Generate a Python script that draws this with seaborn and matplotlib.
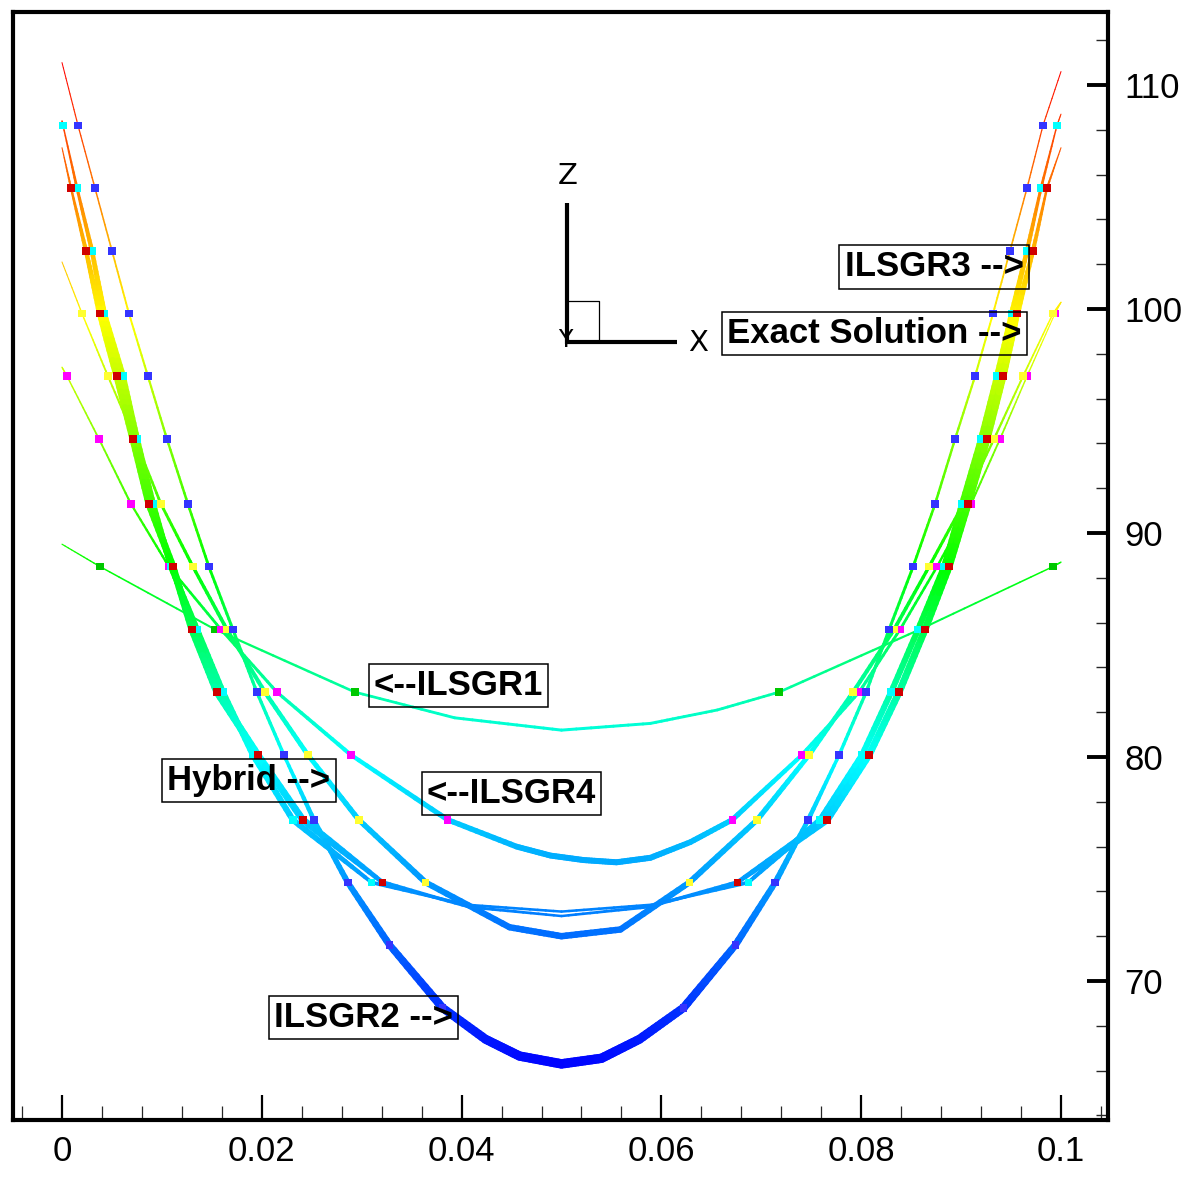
import numpy as np
import pandas as pd
import matplotlib
matplotlib.use("Agg")
import matplotlib.pyplot as plt
from matplotlib.collections import LineCollection
from matplotlib.colors import LinearSegmentedColormap, Normalize
from matplotlib.lines import Line2D
from matplotlib.ticker import FixedLocator, MultipleLocator
import seaborn as sns

# z levels at which the solution points were sampled (top to bottom)
Z_LEVELS = [108.2, 105.4, 102.6, 99.8, 97.0, 94.2, 91.3, 88.5,
            85.7, 82.9, 80.1, 77.2, 74.4, 71.6, 68.8]

# ILSGR2
ILSGR2_LEFT_X = [0.0016, 0.0033, 0.0050, 0.0067, 0.0086, 0.0105, 0.0126, 0.0147,
                 0.0171, 0.0195, 0.0222, 0.0252, 0.0286, 0.0328, 0.0381]
ILSGR2_RIGHT_X = [0.0982, 0.0966, 0.0949, 0.0932, 0.0914, 0.0894, 0.0874, 0.0852,
                  0.0828, 0.0805, 0.0778, 0.0747, 0.0714, 0.0674, 0.0622]
ILSGR2_BOTTOM_X = [0.0424, 0.0458, 0.0500, 0.0540, 0.0578]
ILSGR2_BOTTOM_Z = [67.4, 66.65, 66.3, 66.55, 67.4]
ILSGR2_END_Z = [111.0, 110.6]

# Exact solution
EXACT_LEFT_X = [0.0009, 0.0024, 0.0038, 0.0055, 0.0071, 0.0087, 0.0111, 0.0130,
                0.0155, 0.0196, 0.0241, 0.0321]
EXACT_RIGHT_X = [0.0986, 0.0972, 0.0956, 0.0942, 0.0926, 0.0907, 0.0888, 0.0864,
                 0.0838, 0.0808, 0.0766, 0.0676]
EXACT_BOTTOM_X = [0.0408, 0.0500, 0.0586]
EXACT_BOTTOM_Z = [73.3, 72.9, 73.3]
EXACT_END_Z = [107.2, 107.2]

# ILSGR3
ILSGR3_LEFT_X = [0.0001, 0.0015, 0.0030, 0.0042, 0.0061, 0.0075, 0.0091, 0.0109,
                 0.0135, 0.0161, 0.0191, 0.0231, 0.0310]
ILSGR3_RIGHT_X = [0.0996, 0.0980, 0.0966, 0.0951, 0.0936, 0.0920, 0.0901, 0.0883,
                  0.0857, 0.0830, 0.0801, 0.0759, 0.0687]
ILSGR3_BOTTOM_X = [0.0405, 0.0500, 0.0590]
ILSGR3_BOTTOM_Z = [73.4, 73.1, 73.4]
ILSGR3_END_Z = [108.4, 108.7]

# Hybrid
HYBRID_LEFT_X = [0.0020, 0.0046, 0.0073, 0.0099, 0.0131, 0.0165, 0.0203, 0.0246,
                 0.0297, 0.0364]
HYBRID_RIGHT_X = [0.0992, 0.0962, 0.0933, 0.0902, 0.0868, 0.0833, 0.0792, 0.0748,
                  0.0696, 0.0628]
HYBRID_BOTTOM_X = [0.0448, 0.0500, 0.0559]
HYBRID_BOTTOM_Z = [72.4, 72.0, 72.3]
HYBRID_END_Z = [102.1, 100.3]

# ILSGR4
ILSGR4_LEFT_X = [0.0005, 0.0037, 0.0069, 0.0107, 0.0159, 0.0215, 0.0289, 0.0386]
ILSGR4_RIGHT_X = [0.0994, 0.0966, 0.0939, 0.0910, 0.0876, 0.0839, 0.0798, 0.0741,
                  0.0671]
ILSGR4_BOTTOM_X = [0.0455, 0.0489, 0.0522, 0.0555, 0.0589, 0.0629]
ILSGR4_BOTTOM_Z = [76.0, 75.6, 75.4, 75.3, 75.5, 76.2]
ILSGR4_END_Z = [97.4, 100.3]

# ILSGR1
ILSGR1_LEFT_X = [0.0038, 0.0153, 0.0293]
ILSGR1_RIGHT_X = [0.0992, 0.0859, 0.0718]
ILSGR1_BOTTOM_X = [0.0393, 0.0500, 0.0589, 0.0656]
ILSGR1_BOTTOM_Z = [81.75, 81.2, 81.5, 82.1]
ILSGR1_END_Z = [89.5, 88.7]

X_TICKS = [0.0, 0.02, 0.04, 0.06, 0.08, 0.1]
X_TICK_LABELS = ["0", "0.02", "0.04", "0.06", "0.08", "0.1"]
Z_TICKS = [70, 80, 90, 100, 110]

# ---------------------------------------------------------------- styling
W, H = 1186, 1178
sns.set_theme(style="white")
NARROW = ["Liberation Sans Narrow", "Liberation Sans", "DejaVu Sans"]
plt.rcParams["font.family"] = NARROW

# name: (left x, first level, right x, first level, bottom x, bottom z, end z,
#        marker colour, width knots, width values in px)
curves = {
    "ILSGR1": (ILSGR1_LEFT_X, 7, ILSGR1_RIGHT_X, 7, ILSGR1_BOTTOM_X, ILSGR1_BOTTOM_Z,
               ILSGR1_END_Z, "#00c800", [0, 0.5, 1], [1.2, 2.2, 3.0]),
    "ILSGR4": (ILSGR4_LEFT_X, 4, ILSGR4_RIGHT_X, 3, ILSGR4_BOTTOM_X, ILSGR4_BOTTOM_Z,
               ILSGR4_END_Z, "#ff00ff", [0, 0.7, 1], [1.0, 3.2, 6.0]),
    "Hybrid": (HYBRID_LEFT_X, 3, HYBRID_RIGHT_X, 3, HYBRID_BOTTOM_X, HYBRID_BOTTOM_Z,
               HYBRID_END_Z, "#ffff30", [0, 0.6, 1], [1.0, 4.0, 6.5]),
    "ILSGR3": (ILSGR3_LEFT_X, 0, ILSGR3_RIGHT_X, 0, ILSGR3_BOTTOM_X, ILSGR3_BOTTOM_Z,
               ILSGR3_END_Z, "#00ffff", [0, 0.25, 0.9, 1], [1.0, 6.0, 6.0, 2.5]),
    "Exact": (EXACT_LEFT_X, 1, EXACT_RIGHT_X, 1, EXACT_BOTTOM_X, EXACT_BOTTOM_Z,
              EXACT_END_Z, "#d00000", [0, 0.25, 0.9, 1], [1.0, 7.0, 7.0, 2.5]),
    "ILSGR2": (ILSGR2_LEFT_X, 0, ILSGR2_RIGHT_X, 0, ILSGR2_BOTTOM_X, ILSGR2_BOTTOM_Z,
               ILSGR2_END_Z, "#3434ff", [0, 0.7, 1], [1.0, 3.5, 9.5]),
}

cmap = LinearSegmentedColormap.from_list(
    "small_rainbow",
    [(0.0, (0, 0, 1)), (14 / 45, (0, 1, 1)), (22.5 / 45, (0, 1, 0)),
     (33.5 / 45, (1, 1, 0)), (1.0, (1, 0, 0))])
norm = Normalize(vmin=66, vmax=111)

fig = plt.figure(figsize=(W / 100, H / 100), dpi=100)
ax = fig.add_axes([13 / W, 1 - 1120 / H, (1108 - 13) / W, (1120 - 12) / H])
ax.set_facecolor("white")


def curve_nodes(lx, lf, rx, rf, bx, bz, ez):
    lz = Z_LEVELS[lf:lf + len(lx)]
    rz = Z_LEVELS[rf:rf + len(rx)]
    xs = [0.0] + list(lx) + list(bx) + list(rx)[::-1] + [0.1]
    zs = [ez[0]] + list(lz) + list(bz) + list(rz)[::-1] + [ez[1]]
    return np.array(xs), np.array(zs), (lz, rz)


marker_rows = []
for name, (lx, lf, rx, rf, bx, bz, ez, mcol, wk, wv) in curves.items():
    xs, zs, (lz, rz) = curve_nodes(lx, lf, rx, rf, bx, bz, ez)
    # densify the polyline so the colour can follow z smoothly
    px, pz = [xs[0]], [zs[0]]
    for i in range(len(xs) - 1):
        s = np.linspace(0, 1, 13)[1:]
        px.extend(xs[i] + (xs[i + 1] - xs[i]) * s)
        pz.extend(zs[i] + (zs[i + 1] - zs[i]) * s)
    px, pz = np.array(px), np.array(pz)
    pts = np.column_stack([px, pz])
    segs = np.stack([pts[:-1], pts[1:]], axis=1)
    zmid = 0.5 * (pz[:-1] + pz[1:])
    tpos = (zs.max() - zmid) / (zs.max() - zs.min())
    widths = np.interp(tpos, wk, wv) * 72 / 100
    lc = LineCollection(segs, colors=cmap(norm(zmid)), linewidths=widths,
                        capstyle="round", joinstyle="round", zorder=3)
    ax.add_collection(lc)
    for x, z in zip(list(lx) + list(rx), list(lz) + list(rz)):
        marker_rows.append({"x": x, "z": z, "series": name})

markers = pd.DataFrame(marker_rows)
palette = {name: spec[7] for name, spec in curves.items()}
sns.scatterplot(data=markers, x="x", y="z", hue="series", palette=palette,
                marker="s", s=30, linewidth=0, legend=False, zorder=5, ax=ax)

# ---------------------------------------------------------------- axes
ax.set_xlim(-0.004905, 0.104705)
ax.set_ylim(63.795, 113.259)
ax.set_xlabel("")
ax.set_ylabel("")
for sp in ax.spines.values():
    sp.set_visible(True)
    sp.set_color("black")
    sp.set_linewidth(3.0)

ax.xaxis.set_major_locator(FixedLocator(X_TICKS))
ax.set_xticklabels(X_TICK_LABELS)
ax.xaxis.set_minor_locator(MultipleLocator(0.004))
ax.yaxis.tick_right()
ax.yaxis.set_major_locator(FixedLocator(Z_TICKS))
ax.yaxis.set_minor_locator(MultipleLocator(2))
ax.tick_params(axis="x", which="major", direction="in", length=18, width=1.6,
               pad=11, labelsize=25, colors="black", bottom=True, top=False)
ax.tick_params(axis="x", which="minor", direction="in", length=10, width=0.9,
               bottom=True, top=False)
ax.tick_params(axis="y", which="major", direction="in", length=15, width=2.8,
               pad=12, labelsize=25, colors="black", right=True, left=False)
ax.tick_params(axis="y", which="minor", direction="in", length=9, width=1.0,
               right=True, left=False)

# ---------------------------------------------------------------- labels
label_kw = dict(ha="center", va="center", fontsize=25, fontweight="bold",
                color="black", family=NARROW, zorder=6,
                bbox=dict(boxstyle="square,pad=0.15", fc="none", ec="black", lw=1.1))
ax.text(0.0873, 101.88, "ILSGR3 -->", **label_kw)
ax.text(0.0813, 98.90, "Exact Solution -->", **label_kw)
ax.text(0.0397, 83.20, "<--ILSGR1", **label_kw)
ax.text(0.0187, 78.95, "Hybrid -->", **label_kw)
ax.text(0.0450, 78.37, "<--ILSGR4", **label_kw)
ax.text(0.0302, 68.37, "ILSGR2 -->", **label_kw)

# ---------------------------------------------------------------- axis triad
def fp(x, y):
    return x / W, 1 - y / H

tri_font = dict(family=["DejaVu Sans"], fontsize=21, color="black",
                ha="center", va="center")
fig.text(*fp(565, 340), "Y", zorder=1, **{**tri_font, "fontsize": 17})
for (x0, y0), (x1, y1), lw in [((567, 203), (567, 344), 3.0),
                               ((565, 342), (677, 342), 3.0)]:
    a, b = fp(x0, y0), fp(x1, y1)
    fig.add_artist(Line2D([a[0], b[0]], [a[1], b[1]], color="black", lw=lw,
                          solid_capstyle="butt", zorder=4))
sq = [fp(567, 301), fp(599, 301), fp(599, 342)]
fig.add_artist(Line2D([p[0] for p in sq], [p[1] for p in sq], color="black",
                      lw=0.9, zorder=4))
fig.text(*fp(568, 176), "Z", zorder=5, **tri_font)
fig.text(*fp(698, 343), "X", zorder=5, **tri_font)

fig.savefig("out.png", dpi=100, facecolor="white")
